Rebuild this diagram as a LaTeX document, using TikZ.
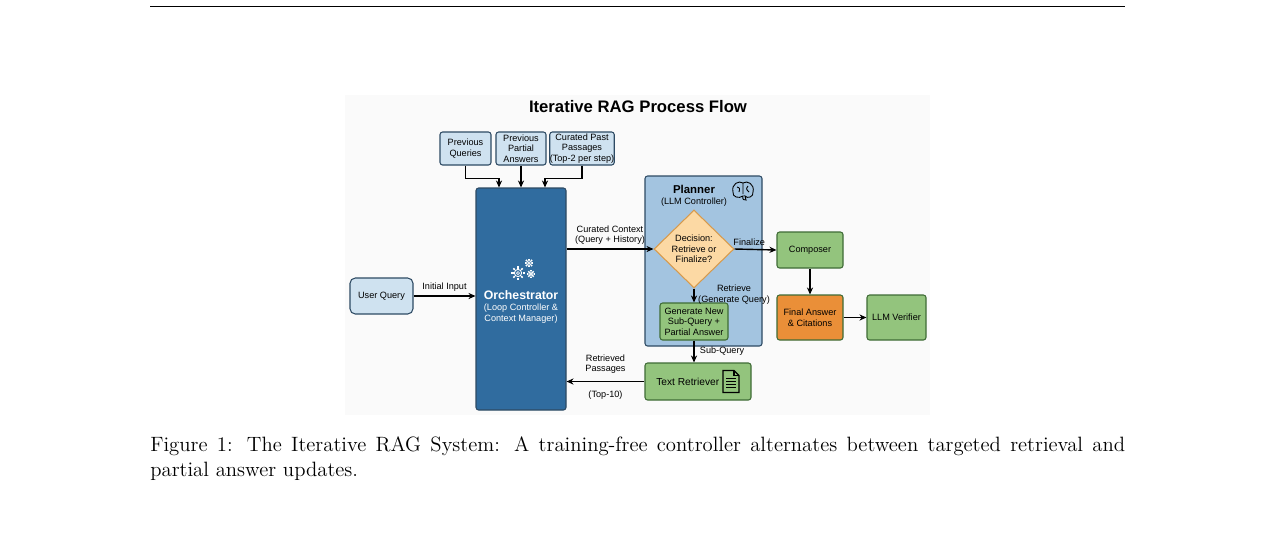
\documentclass[tikz,border=0pt]{standalone}
\usepackage{fontspec}
\setmainfont{Latin Modern Roman}
\newfontfamily\diagfont{Liberation Sans}
\usetikzlibrary{positioning,shapes.geometric,arrows.meta,calc}
\definecolor{boxline}{HTML}{2D4A63}
\definecolor{ctxfill}{HTML}{CFE2F0}
\definecolor{orchfill}{HTML}{306C9F}
\definecolor{planfill}{HTML}{A3C4E0}
\definecolor{greenfill}{HTML}{93C47D}
\definecolor{greenline}{HTML}{3E6B35}
\definecolor{orangefill}{HTML}{EA8F38}
\definecolor{decfill}{HTML}{FCD9A4}
\definecolor{decline}{HTML}{D79A4C}
\tikzset{
  txt/.style={font=\diagfont\fontsize{5.2}{6}\selectfont, align=center, inner sep=0pt},
  ctxbox/.style={txt, draw=boxline, fill=ctxfill, rounded corners=1.5pt, line width=0.6pt},
  greenbox/.style={txt, draw=greenline, fill=greenfill, rounded corners=1.5pt, line width=0.6pt},
  flow/.style={-{Stealth[length=4pt,width=3.5pt]}, line width=0.8pt},
  lbl/.style={txt}
}
\begin{document}
\begin{tikzpicture}[x=0.02cm,y=-0.02cm]
\useasboundingbox (0,0) rectangle (1275,535);
% page header rule
\draw[line width=0.5pt] (150,6) -- (1125,6);
\fill[gray!4] (345,95) rectangle (930,415);
\node[font=\diagfont\bfseries\fontsize{9.5}{11}\selectfont] (title) at (638,107) {Iterative RAG Process Flow};

% context boxes
\node[ctxbox, minimum width=51*0.02cm, minimum height=33*0.02cm] (prevq) at (465.5,148.5) {Previous\\Queries};
\node[ctxbox, minimum width=50*0.02cm, minimum height=33*0.02cm] (preva) at (521,148.5) {Previous\\Partial\\Answers};
\node[ctxbox, minimum width=60*0.02cm, minimum height=33*0.02cm] (prevp) at (582,148.5) {Curated Past\\Passages\\(Top-2 per step)};

% orchestrator
\node[draw=boxline, fill=orchfill, rounded corners=1.5pt, line width=0.6pt, minimum width=90*0.02cm, minimum height=222*0.02cm] (orch) at (521,299) {};
\node[txt, text=white, font=\diagfont\fontsize{5.2}{6.2}\selectfont] (orchtxt) at (521,307) {{\bfseries\fontsize{7}{8}\selectfont Orchestrator}\\(Loop Controller \&\\Context Manager)};
% gears
\foreach \cx/\cy/\r in {518/273/6, 529/263/4, 531/274/3.5}{
  \draw[white, line width=0.5pt] (\cx,\cy) circle (\r*0.012cm);
  \foreach \a in {0,45,...,315}
    \draw[white, line width=0.9pt] ($(\cx,\cy)+(\a:\r*0.015cm)$) -- ($(\cx,\cy)+(\a:\r*0.022cm)$);
  \draw[white, line width=0.4pt] (\cx,\cy) circle (\r*0.005cm);
}

\node[ctxbox, minimum width=63*0.02cm, minimum height=36*0.02cm, rounded corners=3pt] (user) at (381.5,296) {User Query};

% planner
\node[draw=boxline, fill=planfill, rounded corners=1.5pt, line width=0.6pt, minimum width=117*0.02cm, minimum height=170*0.02cm] (plan) at (703.5,261) {};
\node[txt, font=\diagfont\fontsize{5.2}{6.2}\selectfont] (plantxt) at (694,196) {{\bfseries\fontsize{6.5}{7.5}\selectfont Planner}\\(LLM Controller)};
% brain
\begin{scope}[shift={(743,190)}, line width=0.5pt]
  \draw (-10,2) .. controls (-12,-6) and (-4,-10) .. (0,-7) .. controls (4,-10) and (12,-6) .. (10,2) .. controls (11,7) and (4,9) .. (2,6) -- (3,10) .. controls (1,11) and (-1,9) .. (0,6) .. controls (-4,9) and (-11,7) .. (-10,2);
  \draw (0,-7) -- (0,4) (-6,-3) .. controls (-3,-2) .. (-4,2) (5,-4) .. controls (3,-1) .. (6,2);
\end{scope}
\node[diamond, draw=decline, fill=decfill, line width=0.6pt, minimum width=80*0.02cm, minimum height=78*0.02cm, inner sep=0pt] (dec) at (694,249) {};
\node[txt] (dectxt) at (694,249) {Decision:\\Retrieve or\\Finalize?};
\node[greenbox, minimum width=68*0.02cm, minimum height=37*0.02cm] (gen) at (694,321.5) {Generate New\\Sub-Query +\\Partial Answer};
\node[greenbox, minimum width=106*0.02cm, minimum height=37*0.02cm] (ret) at (698,381.5) {};
\node[txt, anchor=west] (rettxt) at (656,381.5) {\fontsize{5.8}{7}\selectfont Text Retriever};
% document icon
\begin{scope}[shift={(731,381.5)}, line width=0.7pt]
  \draw (-8,-11) -- (3,-11) -- (8,-6) -- (8,11) -- (-8,11) -- cycle;
  \draw (3,-11) -- (3,-6) -- (8,-6);
  \foreach \yy in {-3,0,3,6} \draw[line width=0.5pt] (-5,\yy) -- (5,\yy);
\end{scope}

\node[greenbox, minimum width=66*0.02cm, minimum height=36*0.02cm] (comp) at (810,250) {Composer};
\node[txt, draw=greenline, fill=orangefill, rounded corners=1.5pt, line width=0.6pt, minimum width=66*0.02cm, minimum height=45*0.02cm] (final) at (810,317.5) {Final Answer\\\& Citations};
\node[greenbox, minimum width=59*0.02cm, minimum height=45*0.02cm] (verif) at (896.5,317.5) {LLM Verifier};

% connectors
\draw[flow] (prevq.south) -- ++(0,13) -| ([xshift=-22*0.02cm]orch.north);
\draw[flow] (preva.south) -- (orch.north);
\draw[flow] (prevp.south) -- ++(0,13) -| ([xshift=24*0.02cm]orch.north);
\draw[flow] (user.east) -- node[lbl, above=2pt] {Initial Input} (user.east -| orch.west);
\draw[flow] (dec.west -| orch.east) -- node[lbl, above=2pt] {Curated Context\\(Query + History)} (dec.west);
\draw[flow] (dec.east) -- node[lbl, above=2pt, pos=0.35] {Finalize} (comp.west);
\draw[flow] (dec.south) -- node[lbl, right=2pt, pos=0.45] {Retrieve\\(Generate Query)} (gen.north);
\draw[flow] (gen.south) -- node[lbl, right=3pt] {Sub-Query} (gen.south |- ret.north);
\draw[flow] (ret.west) -- node[lbl, above=4pt] {Retrieved\\Passages} node[lbl, below=5pt] {(Top-10)} (ret.west -| orch.east);
\draw[flow] (comp.south) -- (final.north);
\draw[flow] (final.east) -- (verif.west);

% caption
\node[anchor=north west, text width=19.5cm, align=justify, inner sep=0pt, font=\fontsize{11.8}{14.5}\selectfont] (cap) at (150,436) {Figure 1: The Iterative RAG System: A training-free controller alternates between targeted retrieval and partial answer updates.};
\end{tikzpicture}
\end{document}
